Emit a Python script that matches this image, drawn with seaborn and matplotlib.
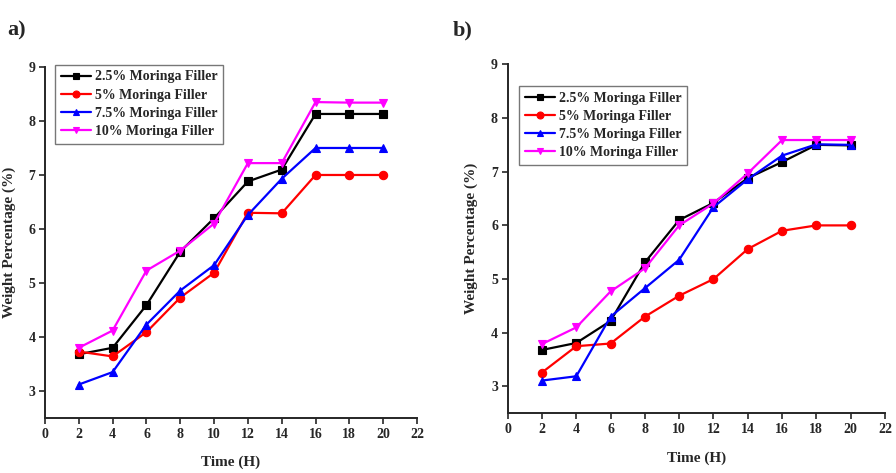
import matplotlib
matplotlib.use("Agg")
import matplotlib.pyplot as plt
import seaborn as sns
import pandas as pd

time_h = [2, 4, 6, 8, 10, 12, 14, 16, 18, 20]
series_names = ["2.5% Moringa Filler", "5% Moringa Filler", "7.5% Moringa Filler", "10% Moringa Filler"]

a_25 = [3.68, 3.80, 4.59, 5.58, 6.20, 6.88, 7.10, 8.13, 8.13, 8.13]
a_5 = [3.73, 3.64, 4.09, 4.73, 5.19, 6.30, 6.29, 7.00, 7.00, 7.00]
a_75 = [3.12, 3.35, 4.23, 4.86, 5.33, 6.26, 6.93, 7.50, 7.50, 7.50]
a_10 = [3.80, 4.12, 5.23, 5.60, 6.10, 7.22, 7.22, 8.35, 8.34, 8.34]

b_25 = [3.68, 3.81, 4.22, 5.31, 6.10, 6.42, 6.88, 7.18, 7.50, 7.49]
b_5 = [3.26, 3.75, 3.80, 4.30, 4.69, 5.00, 5.56, 5.90, 6.00, 6.00]
b_75 = [3.11, 3.19, 4.30, 4.83, 5.36, 6.34, 6.86, 7.30, 7.51, 7.50]
b_10 = [3.79, 4.10, 4.77, 5.20, 6.00, 6.41, 6.97, 7.59, 7.59, 7.59]

x_ticks = [0, 2, 4, 6, 8, 10, 12, 14, 16, 18, 20, 22]
y_ticks = [3, 4, 5, 6, 7, 8, 9]

colors = {series_names[0]: "#000000", series_names[1]: "#ff0000",
          series_names[2]: "#0000ff", series_names[3]: "#ff00ff"}
markers = {series_names[0]: "s", series_names[1]: "o",
           series_names[2]: "^", series_names[3]: "v"}

def make_df(vals):
    rows = []
    for name, v in zip(series_names, vals):
        for t, y in zip(time_h, v):
            rows.append({"Time": t, "Weight": y, "Series": name})
    return pd.DataFrame(rows)

df_a = make_df([a_25, a_5, a_75, a_10])
df_b = make_df([b_25, b_5, b_75, b_10])

sns.set_style("ticks")
plt.rcParams["font.family"] = ["Liberation Serif", "DejaVu Serif"]
plt.rcParams["font.weight"] = "bold"

fig = plt.figure(figsize=(8.96, 4.73), dpi=100)
ax_a = fig.add_axes([0.0502, 0.1163, 0.4152, 0.7421])
ax_b = fig.add_axes([0.5666, 0.1262, 0.4211, 0.7378])

def draw(ax, df, legend_anchor):
    sns.lineplot(data=df, x="Time", y="Weight", hue="Series", style="Series",
                 palette=colors, markers=markers, dashes=False, ax=ax,
                 linewidth=1.6, markersize=6, markeredgewidth=0.8,
                 hue_order=series_names, style_order=series_names)
    for line in ax.lines:
        line.set_markeredgecolor(line.get_color())
    ax.set_xlim(0, 22)
    ax.set_ylim(2.5, 9)
    ax.set_xticks(x_ticks)
    ax.set_yticks(y_ticks)
    ax.set_xticklabels([str(t) for t in x_ticks], fontsize=10, fontweight="bold")
    ax.set_yticklabels([str(t) for t in y_ticks], fontsize=10, fontweight="bold")
    ax.tick_params(direction="out", length=4, width=1.2, pad=3)
    for s in ["top", "right"]:
        ax.spines[s].set_visible(False)
    for s in ["left", "bottom"]:
        ax.spines[s].set_linewidth(1.4)
    ax.set_xlabel("Time (H)", fontsize=11, fontweight="bold", labelpad=11)
    ax.set_ylabel("Weight Percentage (%)", fontsize=11, fontweight="bold", labelpad=9)
    handles, labels = ax.get_legend_handles_labels()
    for h in handles:
        h.set_markersize(5)
    leg = ax.legend(handles, labels, loc="upper left", bbox_to_anchor=legend_anchor,
                    frameon=True, fancybox=False, edgecolor="#555555",
                    prop={"weight": "bold", "size": 10}, handlelength=2.2,
                    handletextpad=0.3, borderpad=0.4, labelspacing=0.38,
                    borderaxespad=0)
    leg.get_frame().set_linewidth(1.0)

draw(ax_a, df_a, (0.027, 1.006))
draw(ax_b, df_b, (0.03, 0.938))

fig.text(0.008, 0.925, "a)", fontsize=16, fontweight="bold")
fig.text(0.505, 0.925, "b)", fontsize=16, fontweight="bold")

fig.savefig("out.png", dpi=100, facecolor="white")
